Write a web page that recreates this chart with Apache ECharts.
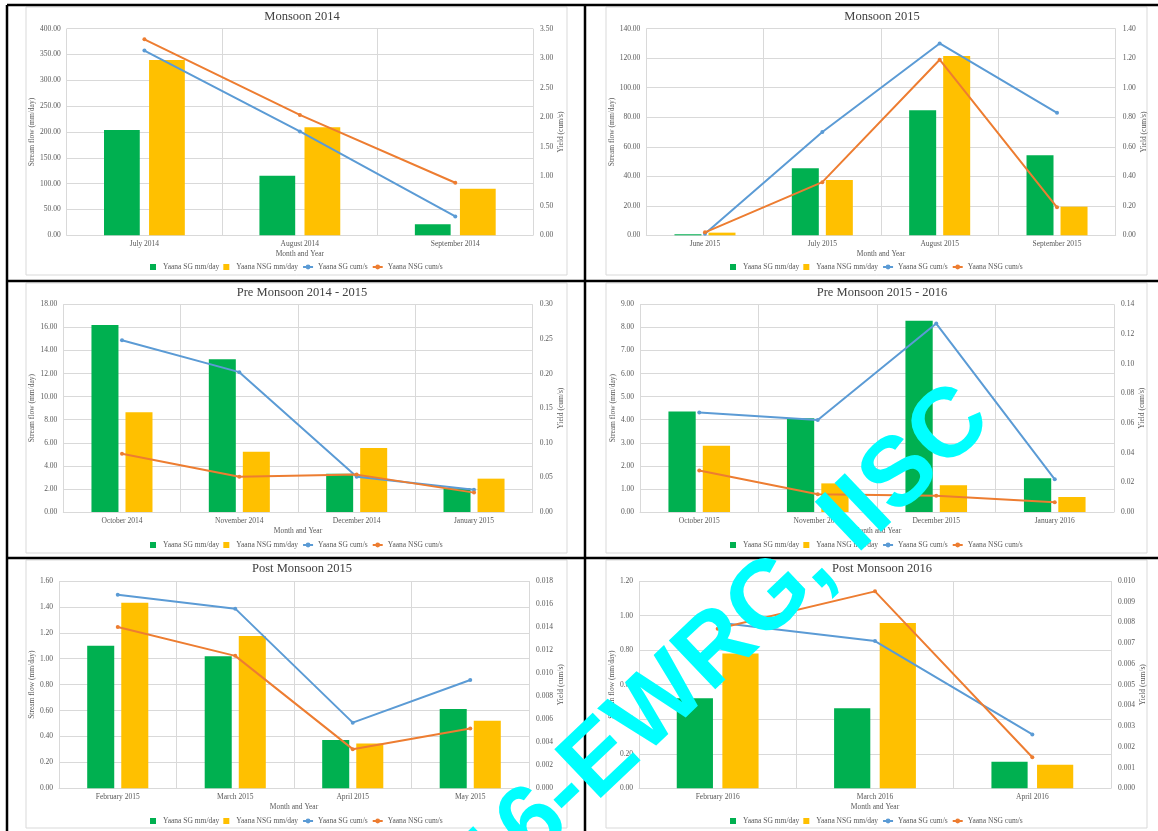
<!DOCTYPE html>
<html>
<head>
<meta charset="utf-8">
<title>Yaana stream flow and yield</title>
<script src="https://cdn.jsdelivr.net/npm/echarts@6/dist/echarts.min.js"></script>
<style>
  html, body { margin: 0; padding: 0; background: #fff; }
  #chart { width: 1158px; height: 831px; }
</style>
</head>
<body>
<div id="chart"></div>
<script>
  // Monsoon 2014
  const m14Months = ['July 2014', 'August 2014', 'September 2014'];
  const m14SgFlow = [204, 115.5, 21.3];
  const m14NsgFlow = [339.5, 209, 90.3];
  const m14SgYield = [3.13, 1.76, 0.32];
  const m14NsgYield = [3.32, 2.04, 0.89];

  // Monsoon 2015
  const m15Months = ['June 2015', 'July 2015', 'August 2015', 'September 2015'];
  const m15SgFlow = [0.7, 45.4, 84.7, 54.2];
  const m15NsgFlow = [1.8, 37.5, 121.5, 19.4];
  const m15SgYield = [0.01, 0.70, 1.30, 0.83];
  const m15NsgYield = [0.02, 0.36, 1.19, 0.19];

  // Pre Monsoon 2014 - 2015
  const pre1415Months = ['October 2014', 'November 2014', 'December 2014', 'January 2015'];
  const pre1415SgFlow = [16.21, 13.23, 3.32, 2.05];
  const pre1415NsgFlow = [8.64, 5.23, 5.55, 2.89];
  const pre1415SgYield = [0.248, 0.202, 0.051, 0.032];
  const pre1415NsgYield = [0.084, 0.051, 0.054, 0.028];

  // Pre Monsoon 2015 - 2016
  const pre1516Months = ['October 2015', 'November 2015', 'December 2015', 'January 2016'];
  const pre1516SgFlow = [4.36, 4.06, 8.29, 1.46];
  const pre1516NsgFlow = [2.87, 1.24, 1.16, 0.65];
  const pre1516SgYield = [0.067, 0.062, 0.127, 0.022];
  const pre1516NsgYield = [0.028, 0.012, 0.011, 0.0065];

  // Post Monsoon 2015
  const post15Months = ['February 2015', 'March 2015', 'April 2015', 'May 2015'];
  const post15SgFlow = [1.10, 1.02, 0.373, 0.612];
  const post15NsgFlow = [1.433, 1.175, 0.345, 0.522];
  const post15SgYield = [0.0168, 0.0156, 0.0057, 0.0094];
  const post15NsgYield = [0.0140, 0.0115, 0.0034, 0.0052];

  // Post Monsoon 2016
  const post16Months = ['February 2016', 'March 2016', 'April 2016'];
  const post16SgFlow = [0.521, 0.463, 0.154];
  const post16NsgFlow = [0.781, 0.957, 0.137];
  const post16SgYield = [0.0080, 0.0071, 0.0026];
  const post16NsgYield = [0.0077, 0.0095, 0.0015];

  const seriesNames = ['Yaana SG mm/day', 'Yaana NSG mm/day', 'Yaana SG cum/s', 'Yaana NSG cum/s'];

  const serif = 'Liberation Serif, Times New Roman, serif';
  const labelColor = '#595959';
  const gridColor = '#d9d9d9';

  // row layout (page pixels)
  const rows = [
    { title: 17, top: 28.7, bottom: 235.3, legend: 267 },
    { title: 293, top: 304.3, bottom: 512, legend: 545 },
    { title: 569, top: 581, bottom: 788.3, legend: 821 }
  ];

  const panels = [
    { title: 'Monsoon 2014', months: m14Months, sg: m14SgFlow, nsg: m14NsgFlow, sgY: m14SgYield, nsgY: m14NsgYield,
      flowMax: 400, flowStep: 50, yMax: 3.5, yStep: 0.5, flowDp: 2, yDp: 2, ox: 0, row: 0, x0: 66.7, x1: 533, gaps: [23, 20] },
    { title: 'Monsoon 2015', months: m15Months, sg: m15SgFlow, nsg: m15NsgFlow, sgY: m15SgYield, nsgY: m15NsgYield,
      flowMax: 140, flowStep: 20, yMax: 1.4, yStep: 0.2, flowDp: 2, yDp: 2, ox: 580, row: 0, x0: 66.3, x1: 535.7, gaps: [22, 18] },
    { title: 'Pre Monsoon 2014 - 2015', months: pre1415Months, sg: pre1415SgFlow, nsg: pre1415NsgFlow, sgY: pre1415SgYield, nsgY: pre1415NsgYield,
      flowMax: 18, flowStep: 2, yMax: 0.3, yStep: 0.05, flowDp: 2, yDp: 2, ox: 0, row: 1, x0: 63.3, x1: 532.7, gaps: [19, 20] },
    { title: 'Pre Monsoon 2015 - 2016', months: pre1516Months, sg: pre1516SgFlow, nsg: pre1516NsgFlow, sgY: pre1516SgYield, nsgY: pre1516NsgYield,
      flowMax: 9, flowStep: 1, yMax: 0.14, yStep: 0.02, flowDp: 2, yDp: 2, ox: 580, row: 1, x0: 60, x1: 534, gaps: [16, 21] },
    { title: 'Post Monsoon 2015', months: post15Months, sg: post15SgFlow, nsg: post15NsgFlow, sgY: post15SgYield, nsgY: post15NsgYield,
      flowMax: 1.6, flowStep: 0.2, yMax: 0.018, yStep: 0.002, flowDp: 2, yDp: 3, ox: 0, row: 2, x0: 59, x1: 529, gaps: [15, 23] },
    { title: 'Post Monsoon 2016', months: post16Months, sg: post16SgFlow, nsg: post16NsgFlow, sgY: post16SgYield, nsgY: post16NsgYield,
      flowMax: 1.2, flowStep: 0.2, yMax: 0.010, yStep: 0.001, flowDp: 2, yDp: 3, ox: 580, row: 2, x0: 59, x1: 531, gaps: [15, 23] }
  ];

  const squareIcon = 'path://M0,0H10V10H0Z';

  let option = {
    backgroundColor: '#fff',
    animation: false,
    title: [], legend: [], grid: [], xAxis: [], yAxis: [], series: [], graphic: []
  };

  panels.forEach(function (p, i) {
    const r = rows[p.row];
    option.title.push({
      text: p.title, left: p.ox + 302, top: r.title, textAlign: 'center', textVerticalAlign: 'middle', padding: 0,
      textStyle: { fontFamily: serif, fontSize: 12.5, fontWeight: 'normal', color: '#404040' }
    });
    option.grid.push({ left: p.ox + p.x0, top: r.top, width: p.x1 - p.x0, height: r.bottom - r.top });
    option.xAxis.push({
      type: 'category', gridIndex: i, data: p.months,
      name: 'Month and Year', nameLocation: 'middle', nameGap: 15,
      nameTextStyle: { fontFamily: serif, fontSize: 7.5, color: labelColor },
      axisTick: { show: false },
      axisLine: { lineStyle: { color: gridColor } },
      axisLabel: { margin: 5, fontFamily: serif, fontSize: 7.5, color: labelColor },
      splitLine: { show: true, lineStyle: { color: gridColor } }
    });
    option.yAxis.push({
      type: 'value', gridIndex: i, min: 0, max: p.flowMax, interval: p.flowStep,
      name: 'Stream flow (mm/day)', nameLocation: 'middle', nameGap: p.gaps[0],
      nameTextStyle: { fontFamily: serif, fontSize: 7.5, color: labelColor },
      axisLine: { show: false }, axisTick: { show: false },
      axisLabel: { margin: 6, fontFamily: serif, fontSize: 7.5, color: labelColor,
        formatter: function (v) { return v.toFixed(p.flowDp); } },
      splitLine: { lineStyle: { color: gridColor } }
    });
    option.yAxis.push({
      type: 'value', gridIndex: i, position: 'right', min: 0, max: p.yMax, interval: p.yStep,
      name: 'Yield (cum/s)', nameLocation: 'middle', nameGap: p.gaps[1],
      nameTextStyle: { fontFamily: serif, fontSize: 7.5, color: labelColor },
      axisLine: { show: false }, axisTick: { show: false },
      axisLabel: { margin: 7, fontFamily: serif, fontSize: 7.5, color: labelColor,
        formatter: function (v) { return v.toFixed(p.yDp); } },
      splitLine: { show: false }
    });
    option.series.push(
      { name: seriesNames[0], type: 'bar', xAxisIndex: i, yAxisIndex: 2 * i, data: p.sg,
        itemStyle: { color: '#00B050' }, barGap: '26%', barCategoryGap: '48%' },
      { name: seriesNames[1], type: 'bar', xAxisIndex: i, yAxisIndex: 2 * i, data: p.nsg,
        itemStyle: { color: '#FFC000' }, barGap: '26%', barCategoryGap: '48%' },
      { name: seriesNames[2], type: 'line', xAxisIndex: i, yAxisIndex: 2 * i + 1, data: p.sgY,
        symbol: 'circle', symbolSize: 4, lineStyle: { width: 2, color: '#5B9BD5' }, itemStyle: { color: '#5B9BD5' } },
      { name: seriesNames[3], type: 'line', xAxisIndex: i, yAxisIndex: 2 * i + 1, data: p.nsgY,
        symbol: 'circle', symbolSize: 4, lineStyle: { width: 2, color: '#ED7D31' }, itemStyle: { color: '#ED7D31' } }
    );
    option.legend.push({
      left: p.ox + 150, top: r.legend - 4, padding: 0, itemGap: 4, itemWidth: 10, itemHeight: 6,
      textStyle: { fontFamily: serif, fontSize: 7.5, color: labelColor },
      data: [
        { name: seriesNames[0], icon: squareIcon },
        { name: seriesNames[1], icon: squareIcon },
        seriesNames[2], seriesNames[3]
      ]
    });
    // light grey chart-area frame
    const fy0 = [7, 283, 560][p.row];
    const fy1 = [275, 553, 828][p.row];
    option.graphic.push({
      type: 'rect', z: 0, silent: true,
      shape: { x: p.ox + 26, y: fy0, width: 541, height: fy1 - fy0 },
      style: { fill: null, stroke: gridColor, lineWidth: 1 }
    });
  });

  // black panel borders
  const borderLines = [
    [7, 5, 7, 831], [585, 5, 585, 831],
    [7, 5, 1158, 5], [7, 281, 1158, 281], [7, 558, 1158, 558]
  ];
  borderLines.forEach(function (l) {
    option.graphic.push({
      type: 'line', z: 100, silent: true,
      shape: { x1: l[0], y1: l[1], x2: l[2], y2: l[3] },
      style: { stroke: '#000', lineWidth: 2.5 }
    });
  });

  // watermark
  option.graphic.push({
    type: 'text', z: 200, silent: true, x: 976, y: 404, rotation: 0.76,
    style: {
      text: '2016-EWRG, IISC', fill: '#00FFFF',
      font: 'bold 98px Liberation Sans, Arial, sans-serif',
      align: 'right', verticalAlign: 'middle'
    }
  });

  let chart = echarts.init(document.getElementById('chart'));
  chart.setOption(option);
</script>
</body>
</html>
